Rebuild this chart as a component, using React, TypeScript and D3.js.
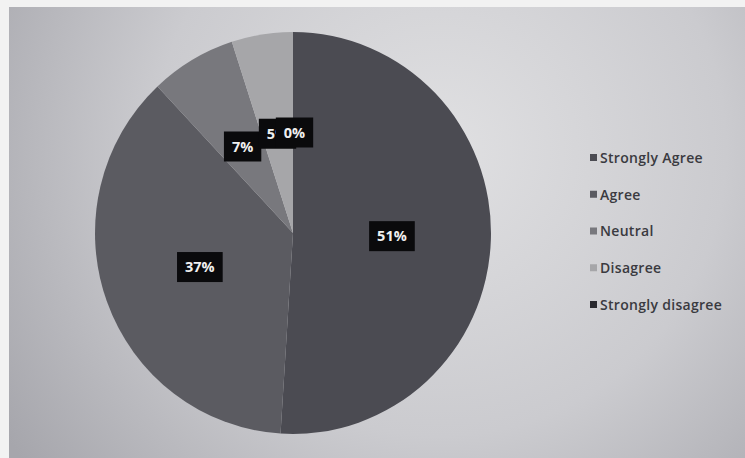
import React, { useEffect, useRef } from 'react';
import * as d3 from 'd3';

// survey answers and their share of responses (percent)
const categories = ['Strongly Agree', 'Agree', 'Neutral', 'Disagree', 'Strongly disagree'];
const shares = [51, 37, 7, 5, 0];
const sliceColors = ['#4b4b52', '#5b5b61', '#78787d', '#a6a6a9', '#2a2a30'];

const App: React.FC = () => {
  const svgRef = useRef<SVGSVGElement>(null);

  useEffect(() => {
    if (!svgRef.current) return;
    const width = 745;
    const height = 458;

    const svg = d3.select(svgRef.current);
    svg.selectAll('*').remove();

    // photo-like backdrop: white paper edge + grey gradient
    const defs = svg.append('defs');
    const grad = defs.append('radialGradient')
      .attr('id', 'bg')
      .attr('gradientUnits', 'userSpaceOnUse')
      .attr('cx', 440).attr('cy', 150).attr('r', 520);
    grad.append('stop').attr('offset', '0%').attr('stop-color', '#e0e0e2');
    grad.append('stop').attr('offset', '55%').attr('stop-color', '#cbcbcf');
    grad.append('stop').attr('offset', '100%').attr('stop-color', '#a6a6ac');

    svg.append('rect').attr('width', width).attr('height', height).attr('fill', '#f2f2f2');
    svg.append('rect')
      .attr('x', 9).attr('y', 7)
      .attr('width', width - 9).attr('height', height - 7)
      .attr('fill', 'url(#bg)');

    // pie (slightly squeezed horizontally, like the photographed screen)
    const cx = 293;
    const cy = 233;
    const radius = 201;

    const data = categories.map((c, i) => ({ name: c, value: shares[i], color: sliceColors[i] }));
    const pie = d3.pie<any>().value(d => d.value).sort(null);
    const arcs = pie(data);
    const arc = d3.arc<any>().innerRadius(0).outerRadius(radius);
    const labelArc = d3.arc<any>().innerRadius(radius * 0.5).outerRadius(radius * 0.5);

    const g = svg.append('g').attr('transform', `translate(${cx},${cy})`);
    g.append('g')
      .attr('transform', 'scale(0.985,1)')
      .selectAll('path')
      .data(arcs.filter(a => a.data.value > 0))
      .join('path')
      .attr('d', arc)
      .attr('fill', d => d.data.color);

    // data labels: black boxes with white bold text
    const labels = g.append('g')
      .selectAll('g')
      .data(arcs)
      .join('g')
      .attr('transform', d => {
        const [x, y] = labelArc.centroid(d);
        const nudge = d.data.value === 0 ? 1.5 : 0;
        return `translate(${x * 0.985 + nudge},${y})`;
      });

    labels.append('text')
      .attr('text-anchor', 'middle')
      .attr('dy', '0.36em')
      .style('font-family', '"Open Sans", sans-serif')
      .style('font-size', '14.5px')
      .style('font-weight', 700)
      .attr('fill', '#f0f0f0')
      .text(d => `${d.data.value}%`);

    labels.each(function () {
      const grp = d3.select(this);
      const t = grp.select('text').node() as SVGTextElement;
      const bb = t.getBBox();
      grp.insert('rect', 'text')
        .attr('x', bb.x - 8)
        .attr('y', -15)
        .attr('width', bb.width + 16)
        .attr('height', 30)
        .attr('fill', '#0a0a0c');
    });

    // legend
    const legendY = d3.scalePoint<string>()
      .domain(categories)
      .range([158, 305]);

    const legend = svg.append('g')
      .selectAll('g')
      .data(data)
      .join('g')
      .attr('transform', d => `translate(590,${legendY(d.name)})`);

    legend.append('rect')
      .attr('x', 0).attr('y', -4)
      .attr('width', 7).attr('height', 7)
      .attr('fill', d => d.color);

    legend.append('text')
      .attr('x', 10)
      .attr('dy', '0.35em')
      .style('font-family', '"Open Sans", sans-serif')
      .style('font-size', '14px')
      .style('font-weight', 600)
      .style('letter-spacing', '0.3px')
      .attr('fill', '#3a3a40')
      .text(d => d.name);
  }, []);

  return (
    <svg
      ref={svgRef}
      width={745}
      height={458}
      style={{ position: 'absolute', left: 0, top: 0, display: 'block' }}
    />
  );
};

export default App;
